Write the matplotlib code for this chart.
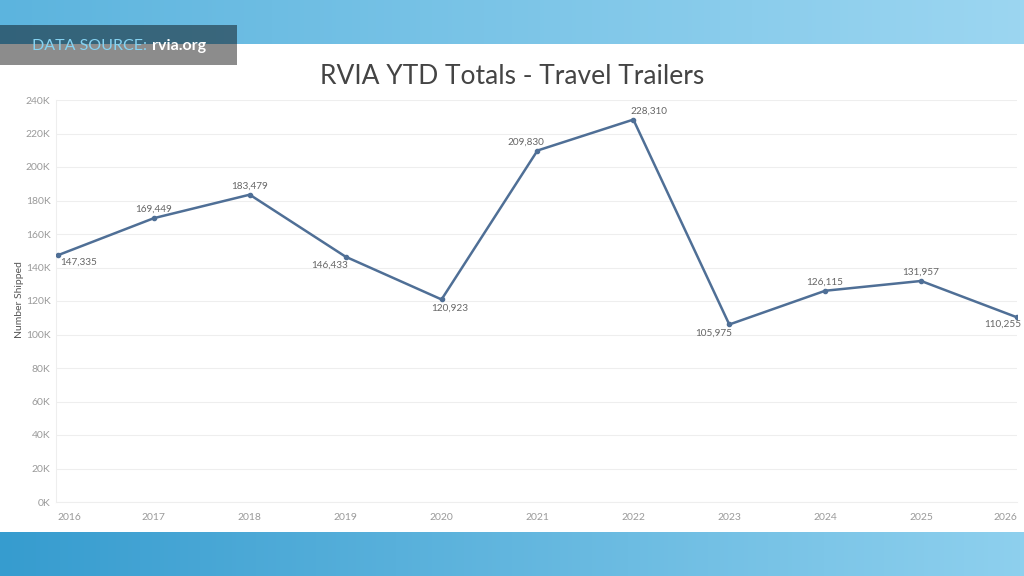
import numpy as np
import matplotlib
matplotlib.use("Agg")
import matplotlib.pyplot as plt
from matplotlib.patches import Rectangle
from matplotlib.ticker import FuncFormatter

years = [2016, 2017, 2018, 2019, 2020, 2021, 2022, 2023, 2024, 2025, 2026]
shipped = [147335, 169449, 183479, 146433, 120923, 209830, 228310, 105975, 126115, 131957, 110255]
y_ticks = [0, 20000, 40000, 60000, 80000, 100000, 120000, 140000, 160000, 180000, 200000, 220000, 240000]

# where each value label sits relative to its point (dx px, dy px, ha, va)
label_pos = [(2, -2, 'left', 'top'), (0, 4, 'center', 'bottom'), (0, 4, 'center', 'bottom'),
             (-16, -4, 'center', 'top'), (8, -4, 'center', 'top'), (-12, 4, 'center', 'bottom'),
             (16, 4, 'center', 'bottom'), (-16, -4, 'center', 'top'), (0, 4, 'center', 'bottom'),
             (0, 4, 'center', 'bottom'), (4, -2, 'right', 'top')]

plt.rcParams['font.family'] = ['Lato', 'DejaVu Sans']

fig = plt.figure(figsize=(10.24, 5.76), dpi=100)
W, H = 1024, 576

def fx(px):
    return px / W

def fy(py):
    return 1 - py / H

# blue bands top and bottom
bg = fig.add_axes([0, 0, 1, 1])
bg.axis('off')
grad = np.linspace(0, 1, 256)
top_cols = np.array([[0x5c, 0xb4, 0xde], [0x9c, 0xd6, 0xf1]]) / 255
bot_cols = np.array([[0x36, 0x9c, 0xcf], [0x8e, 0xd0, 0xee]]) / 255
top_img = top_cols[0][None, :] * (1 - grad[:, None]) + top_cols[1][None, :] * grad[:, None]
bot_img = bot_cols[0][None, :] * (1 - grad[:, None]) + bot_cols[1][None, :] * grad[:, None]
bg.imshow(top_img[None, :, :], extent=[0, W, 44, 0], aspect='auto')
bg.imshow(bot_img[None, :, :], extent=[0, W, H, 532], aspect='auto')
bg.add_patch(Rectangle((0, 25), 237, 40, color='black', alpha=0.45, lw=0))
bg.set_xlim(0, W)
bg.set_ylim(H, 0)

src = bg.text(32, 46, 'DATA SOURCE:', color='#86d3f2', fontsize=11.5, va='center', ha='left')
bg.annotate('rvia.org', xy=(1, 0.5), xycoords=src, xytext=(5, 0), textcoords='offset pixels',
            color='white', fontsize=11.5, fontweight='bold', va='center', ha='left')

fig.text(0.5, fy(76), 'RVIA YTD Totals - Travel Trailers', ha='center', va='center',
         fontsize=19, color='#444444')

ax = fig.add_axes([fx(56), fy(502), fx(1017 - 56), fy(100) - fy(502)])
ax.set_facecolor('none')
ax.plot(years, shipped, color='#4f6f96', lw=1.8, marker='o', ms=3, zorder=3)
ax.set_xlim(2015.98, 2026.0)
ax.set_ylim(0, 240000)
ax.set_yticks(y_ticks)
ax.yaxis.set_major_formatter(FuncFormatter(lambda v, p: f'{int(v / 1000)}K'))
ax.set_xticks(years)
ax.set_xticklabels([str(y) for y in years])
ax.tick_params(axis='both', length=0, labelsize=7.5, labelcolor='#9a9a9a')
ax.tick_params(axis='x', pad=8)
ax.tick_params(axis='y', pad=4)
xl = ax.get_xticklabels()
xl[0].set_ha('left')
xl[-1].set_ha('right')
ax.grid(axis='y', color='#eeeeee', lw=0.8)
for s in ['top', 'right']:
    ax.spines[s].set_visible(False)
ax.spines['left'].set_color('#eeeeee')
ax.spines['bottom'].set_color('#eeeeee')
fig.text(fx(20), fy(300), 'Number Shipped', rotation=90, fontsize=7.5, color='#555555',
         ha='center', va='center')

for x, v, (dx, dy, ha, va) in zip(years, shipped, label_pos):
    ax.annotate(f'{v:,}', (x, v), xytext=(dx, dy), textcoords='offset pixels',
                ha=ha, va=va, fontsize=7.2, color='#666666', zorder=4)

fig.savefig('out.png', dpi=100)
